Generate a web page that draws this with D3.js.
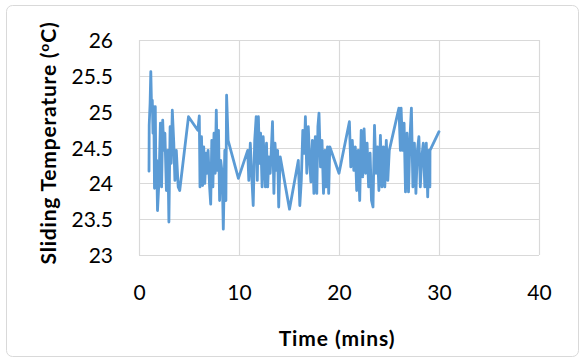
<!DOCTYPE html>
<html><head><meta charset="utf-8">
<script src="https://cdn.jsdelivr.net/npm/d3@7"></script>
<style>body{margin:0;background:#fff}svg{display:block}</style>
</head><body>
<svg id="c" width="581" height="364"></svg>
<script>
const xTicks = [0, 10, 20, 30, 40];
const yTicks = [23, 23.5, 24, 24.5, 25, 25.5, 26];
const times = [1.00,1.02,1.11,1.18,1.26,1.33,1.40,1.48,1.55,1.63,1.70,1.77,1.85,2.00,2.14,2.26,2.37,2.48,2.59,2.74,2.88,2.99,3.11,3.22,3.33,3.48,3.59,3.73,3.92,4.07,4.95,5.88,6.03,6.10,6.25,6.36,6.47,6.58,6.69,6.80,6.91,7.06,7.17,7.28,7.39,7.50,7.62,7.73,7.84,7.95,8.06,8.17,8.32,8.43,8.58,8.69,8.76,8.91,9.94,10.87,10.98,11.13,11.28,11.42,11.57,11.72,11.83,11.94,12.05,12.16,12.31,12.42,12.53,12.64,12.75,12.87,12.98,13.12,13.23,13.35,13.49,13.60,13.75,13.86,13.97,14.12,15.05,15.93,16.08,16.23,16.38,16.53,16.64,16.78,16.93,17.08,17.19,17.34,17.49,17.63,17.78,17.89,18.00,18.15,18.30,18.45,18.60,18.71,18.85,18.97,19.08,20.00,21.04,21.18,21.33,21.48,21.63,21.77,21.92,22.07,22.22,22.37,22.51,22.66,22.81,22.96,23.11,23.25,23.40,23.55,23.70,23.84,23.99,24.14,24.29,24.44,24.58,24.73,24.88,25.03,25.99,26.14,26.21,26.36,26.51,26.65,26.80,26.95,27.10,27.24,27.39,27.54,27.69,27.84,27.99,28.13,28.28,28.43,28.58,28.73,28.87,28.98,29.09,29.10,30.00];
const temps = [24.17,24.81,25.12,25.56,25.02,25.16,24.70,25.07,23.93,25.07,23.95,24.32,23.62,24.04,24.84,23.95,24.88,24.46,24.70,23.90,24.46,23.46,24.79,24.28,25.02,24.56,24.04,24.46,23.95,23.90,24.93,24.74,24.94,23.95,24.65,23.97,24.51,24.00,24.42,24.14,24.46,23.95,23.71,24.60,23.95,24.70,24.14,25.02,24.18,24.74,23.76,24.32,24.14,23.36,24.46,23.76,25.23,24.60,24.07,24.46,24.04,24.56,24.09,23.69,24.60,24.93,24.04,24.93,24.28,24.70,23.95,24.65,24.32,23.95,24.56,23.95,24.37,24.14,24.46,24.86,23.86,24.56,24.18,24.46,23.67,24.37,23.64,24.32,23.69,24.04,24.74,24.42,24.93,24.14,24.79,24.28,24.02,24.60,23.86,24.65,23.86,24.79,24.98,24.23,24.60,23.86,24.46,23.95,24.51,23.86,24.51,24.14,24.86,24.23,24.60,24.18,24.51,23.90,24.46,23.76,24.74,24.09,24.76,24.14,24.56,23.95,24.42,23.76,23.67,24.81,24.14,24.51,23.90,24.67,23.95,24.51,23.95,24.60,24.04,24.46,25.05,24.46,25.05,24.46,24.84,23.88,24.70,23.88,24.65,25.05,23.95,24.56,23.86,24.46,24.65,23.95,24.37,24.56,23.95,24.56,23.81,24.46,23.95,24.46,24.72];
const xTitle = "Time (mins)";
const yTitleMain = "Sliding Temperature (";
const yTitleDeg = "o";
const yTitleEnd = "C)";

const svg = d3.select("#c");
const font = "Lato, 'Open Sans', sans-serif";
const m = {l:139, r:539, t:40, b:255};
const x = d3.scaleLinear().domain([0,40]).range([m.l, m.r]);
const y = d3.scaleLinear().domain([23,26]).range([m.b, m.t]);

svg.append("rect").attr("x",6.5).attr("y",5.5).attr("width",572).attr("height",351)
  .attr("rx",6).attr("fill","#fff").attr("stroke","#d9d9d9").attr("stroke-width",1);

const grid = svg.append("g").attr("stroke","#d9d9d9").attr("stroke-width",1.2);
yTicks.forEach(v => grid.append("line").attr("x1",m.l).attr("x2",m.r)
  .attr("y1",Math.round(y(v))+0.5).attr("y2",Math.round(y(v))+0.5));
xTicks.forEach(v => grid.append("line").attr("y1",m.t).attr("y2",m.b)
  .attr("x1",Math.round(x(v))+0.5).attr("x2",Math.round(x(v))+0.5));

const yAxis = d3.axisLeft(y).tickValues(yTicks).tickSize(0).tickPadding(26).tickFormat(d3.format("~g"));
const gy = svg.append("g").attr("transform",`translate(${m.l},0)`).call(yAxis);
gy.select(".domain").remove();
gy.selectAll("text").attr("font-family",font).attr("font-size",21).attr("fill","#000").attr("dy","0.36em");

const xAxis = d3.axisBottom(x).tickValues(xTicks).tickSize(0).tickPadding(30).tickFormat(d3.format("d"));
const gx = svg.append("g").attr("transform",`translate(0,${m.b})`).call(xAxis);
gx.select(".domain").remove();
gx.selectAll("text").attr("font-family",font).attr("font-size",21).attr("fill","#000");

const data = times.map((t,i)=>[t,temps[i]]);
svg.append("path").datum(data)
  .attr("d", d3.line().x(d=>x(d[0])).y(d=>y(d[1])))
  .attr("fill","none").attr("stroke","#5b9bd5").attr("stroke-width",2.8)
  .attr("stroke-linejoin","round").attr("stroke-linecap","round");

svg.append("text").attr("x",337).attr("y",346)
  .attr("text-anchor","middle").attr("font-family",font).attr("font-weight","bold")
  .attr("font-size",21).attr("letter-spacing",0.9).text(xTitle);

const yt = svg.append("text").attr("transform","translate(56,143) rotate(-90)")
  .attr("text-anchor","middle").attr("font-family",font).attr("font-weight","bold")
  .attr("font-size",21).attr("letter-spacing",0.8);
yt.append("tspan").text(yTitleMain);
yt.append("tspan").attr("font-size",14).attr("dy",-7).text(yTitleDeg);
yt.append("tspan").attr("dy",7).text(yTitleEnd);
</script>
</body></html>
